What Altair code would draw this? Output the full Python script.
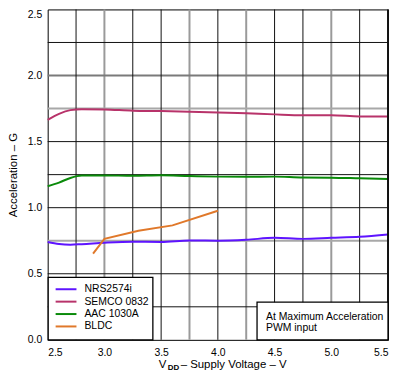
import altair as alt
import pandas as pd

FONT = "Liberation Sans"
FS = 10.5

# ---- data ----
series_order = ["NRS2574i", "SEMCO 0832", "AAC 1030A", "BLDC"]
series_colors = ["#5e14ff", "#b8336a", "#0a8a0a", "#e0782a"]

vdd = [2.5, 2.6, 2.7, 2.8, 3.0, 3.25, 3.5, 3.75, 4.0, 4.25, 4.5, 4.75, 5.0, 5.25, 5.5]
nrs = [0.74, 0.725, 0.72, 0.724, 0.735, 0.743, 0.741, 0.752, 0.75, 0.757, 0.772, 0.764, 0.772, 0.78, 0.797]
semco = [1.664, 1.71, 1.738, 1.745, 1.743, 1.734, 1.731, 1.726, 1.721, 1.714, 1.706, 1.70, 1.70, 1.69, 1.69]
aac = [1.162, 1.19, 1.225, 1.243, 1.244, 1.241, 1.245, 1.239, 1.235, 1.234, 1.235, 1.228, 1.227, 1.222, 1.217]

bldc_vdd = [2.9, 3.0, 3.3, 3.6, 4.0]
bldc = [0.653, 0.764, 0.826, 0.866, 0.977]

x_ticks = [2.5, 3.0, 3.5, 4.0, 4.5, 5.0, 5.5]
y_ticks = [0.0, 0.5, 1.0, 1.5, 2.0, 2.5]
grid_x_black = [2.75, 3.25, 3.5, 4.0, 4.5, 4.75, 5.25]
grid_x_gray = [3.0, 3.75, 4.25, 5.0]
grid_y_black = [0.25, 0.5, 1.0, 1.25, 1.5, 2.25]
grid_y_gray = [0.75, 1.75]
grid_y_dark = [2.0]

note_lines = ["At Maximum Acceleration", "PWM input"]
x_title = ["V", "DD", "\u2013 Supply Voltage \u2013 V"]
y_title = "Acceleration \u2013 G"

W, H = 343, 333

rows = []
for name, vals in [("NRS2574i", nrs), ("SEMCO 0832", semco), ("AAC 1030A", aac)]:
    for x, y in zip(vdd, vals):
        rows.append({"series": name, "vdd": x, "acc": y})
df_smooth = pd.DataFrame(rows)
df_bldc = pd.DataFrame({"series": "BLDC", "vdd": bldc_vdd, "acc": bldc})

xs = alt.Scale(domain=[2.5, 5.5], nice=False, zero=False)
ys = alt.Scale(domain=[0, 2.5], nice=False)
x_axis = alt.Axis(
    values=x_ticks, format=".1f", title=None, grid=False, domain=False, ticks=False,
    labelFont=FONT, labelFontSize=FS, labelColor="black", labelPadding=8)
y_axis = alt.Axis(
    values=y_ticks, format=".1f", title=y_title, grid=False, domain=False, ticks=False,
    labelFont=FONT, labelFontSize=FS, labelColor="black", labelPadding=6,
    labelBaseline={"condition": {"test": "datum.value >= 2.5", "value": "top"}, "value": "middle"},
    titleFont=FONT, titleFontSize=11.5, titleFontWeight="normal", titleColor="black",
    titlePadding=9)

color = alt.Color("series:N", scale=alt.Scale(domain=series_order, range=series_colors),
                  legend=None)

def vrule(vals, col, w):
    return alt.Chart(pd.DataFrame({"v": vals})).mark_rule(color=col, strokeWidth=w).encode(
        x=alt.X("v:Q", scale=xs, axis=x_axis))

def hrule(vals, col, w):
    return alt.Chart(pd.DataFrame({"v": vals})).mark_rule(color=col, strokeWidth=w).encode(
        y=alt.Y("v:Q", scale=ys, axis=y_axis))

grid = alt.layer(
    vrule(grid_x_gray, "#9a9a9a", 2),
    hrule(grid_y_gray, "#a8a8a8", 2),
    hrule(grid_y_dark, "#7a7a7a", 2),
    vrule(grid_x_black, "#111111", 1),
    hrule(grid_y_black, "#111111", 1),
)

lines = alt.Chart(df_smooth).mark_line(strokeWidth=2, interpolate="monotone").encode(
    x=alt.X("vdd:Q", scale=xs, axis=x_axis), y=alt.Y("acc:Q", scale=ys, axis=y_axis), color=color)
bldc_line = alt.Chart(df_bldc).mark_line(strokeWidth=2).encode(
    x=alt.X("vdd:Q", scale=xs, axis=x_axis), y=alt.Y("acc:Q", scale=ys, axis=y_axis), color=color)

right_edge = alt.Chart(pd.DataFrame({"a": [0]})).mark_rule(color="#111111", strokeWidth=2).encode(
    x=alt.value(W), y=alt.value(0), y2=alt.value(H))

# manual legend box (bottom-left)
leg_df = pd.DataFrame({"series": series_order, "i": list(range(len(series_order)))})
leg_df["py"] = 282 + leg_df["i"] * 12.5
leg_df["x1"] = 8
leg_df["x2"] = 29
leg_df["tx"] = 37
leg_box = alt.Chart(pd.DataFrame({"a": [0]})).mark_rect(
    fill="white", stroke="black", strokeWidth=1.3).encode(
    x=alt.value(0.5), x2=alt.value(106), y=alt.value(270), y2=alt.value(H))
leg_sym = alt.Chart(leg_df).mark_rule(strokeWidth=2).encode(
    x=alt.X("x1:Q", scale=None), x2="x2:Q", y=alt.Y("py:Q", scale=None),
    color=color)
leg_txt = alt.Chart(leg_df).mark_text(
    align="left", baseline="middle", font=FONT, fontSize=FS, color="black").encode(
    x=alt.X("tx:Q", scale=None), y=alt.Y("py:Q", scale=None), text="series:N")

# annotation box (bottom-right)
note_box = alt.Chart(pd.DataFrame({"a": [0]})).mark_rect(
    fill="white", stroke="black", strokeWidth=1.3).encode(
    x=alt.value(211), x2=alt.value(W), y=alt.value(295), y2=alt.value(H))
note_df = pd.DataFrame({"t": note_lines, "py": [309.5, 321.5]})
note_text = alt.Chart(note_df).mark_text(
    align="left", baseline="middle", font=FONT, fontSize=FS, color="black").encode(
    x=alt.value(220), y=alt.Y("py:Q", scale=None), text="t:N")

# x-axis title with subscript
xt_main = pd.DataFrame({"t": [x_title[0], x_title[2]], "px": [112, 134], "py": [358.5, 358.5]})
xt_sub = pd.DataFrame({"t": [x_title[1]], "px": [121], "py": [361]})
xtitle_v = alt.Chart(xt_main).mark_text(
    align="left", baseline="middle", font=FONT, fontSize=11.5, color="black").encode(
    x=alt.X("px:Q", scale=None), y=alt.Y("py:Q", scale=None), text="t:N")
xtitle_sub = alt.Chart(xt_sub).mark_text(
    align="left", baseline="middle", font=FONT, fontSize=8, fontWeight="bold", color="black").encode(
    x=alt.X("px:Q", scale=None), y=alt.Y("py:Q", scale=None), text="t:N")

chart = alt.layer(
    grid, lines, bldc_line, right_edge, leg_box, leg_sym, leg_txt,
    note_box, note_text, xtitle_v, xtitle_sub,
).properties(
    width=W, height=H,
    autosize=alt.AutoSizeParams(type="none"),
    padding={"left": 40, "top": 0, "right": 2, "bottom": 36},
).configure_view(stroke="black", strokeWidth=1)

chart.save("out.html", embed_options={"renderer": "svg", "actions": False})
